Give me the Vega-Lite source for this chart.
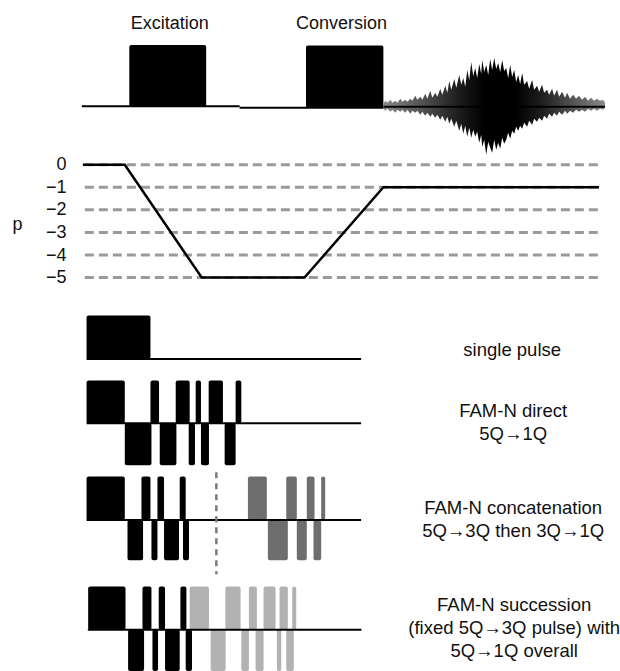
{
  "$schema": "https://vega.github.io/schema/vega-lite/v6.json",
  "width": 620,
  "height": 671,
  "autosize": {"type": "fit", "contains": "padding"},
  "padding": 0,
  "background": "white",
  "config": {"view": {"stroke": null}, "font": "Liberation Sans"},
  "datasets": {
    "pulses": [
      {"t1": 129.5, "t2": 206.5, "v1": 45, "v2": 107, "kind": "pulse"},
      {"t1": 306.5, "t2": 384, "v1": 45.5, "v2": 108, "kind": "pulse"},
      {"t1": 86.7, "t2": 150.7, "v1": 316, "v2": 359.5, "kind": "pulse"},
      {"t1": 86.7, "t2": 125, "v1": 381, "v2": 424, "kind": "pulse"},
      {"t1": 150.7, "t2": 159.3, "v1": 381, "v2": 424, "kind": "pulse"},
      {"t1": 176, "t2": 190, "v1": 381, "v2": 424, "kind": "pulse"},
      {"t1": 196, "t2": 201.3, "v1": 381, "v2": 424, "kind": "pulse"},
      {"t1": 209, "t2": 223.3, "v1": 381, "v2": 424, "kind": "pulse"},
      {"t1": 236, "t2": 241.7, "v1": 381, "v2": 424, "kind": "pulse"},
      {"t1": 125, "t2": 151.7, "v1": 424, "v2": 466, "kind": "pulse"},
      {"t1": 160, "t2": 176.7, "v1": 424, "v2": 466, "kind": "pulse"},
      {"t1": 189, "t2": 195.3, "v1": 424, "v2": 466, "kind": "pulse"},
      {"t1": 201.3, "t2": 209.3, "v1": 424, "v2": 466, "kind": "pulse"},
      {"t1": 225, "t2": 236, "v1": 424, "v2": 466, "kind": "pulse"},
      {"t1": 86.7, "t2": 125, "v1": 477.3, "v2": 520.7, "kind": "pulse"},
      {"t1": 141.7, "t2": 150.7, "v1": 477.3, "v2": 520.7, "kind": "pulse"},
      {"t1": 157.7, "t2": 164.3, "v1": 477.3, "v2": 520.7, "kind": "pulse"},
      {"t1": 180, "t2": 186, "v1": 477.3, "v2": 520.7, "kind": "pulse"},
      {"t1": 127.7, "t2": 143.3, "v1": 520.7, "v2": 561, "kind": "pulse"},
      {"t1": 151.7, "t2": 157.7, "v1": 520.7, "v2": 561, "kind": "pulse"},
      {"t1": 164.3, "t2": 179.3, "v1": 520.7, "v2": 561, "kind": "pulse"},
      {"t1": 183.3, "t2": 189.3, "v1": 520.7, "v2": 561, "kind": "pulse"},
      {"t1": 248.3, "t2": 267.3, "v1": 477.3, "v2": 520.7, "kind": "3Q→1Q block"},
      {"t1": 286.7, "t2": 297.3, "v1": 477.3, "v2": 520.7, "kind": "3Q→1Q block"},
      {"t1": 307.3, "t2": 315, "v1": 477.3, "v2": 520.7, "kind": "3Q→1Q block"},
      {"t1": 321.7, "t2": 325.7, "v1": 477.3, "v2": 520.7, "kind": "3Q→1Q block"},
      {"t1": 268.3, "t2": 288.3, "v1": 520.7, "v2": 561, "kind": "3Q→1Q block"},
      {"t1": 297.3, "t2": 307.3, "v1": 520.7, "v2": 561, "kind": "3Q→1Q block"},
      {"t1": 314, "t2": 321.7, "v1": 520.7, "v2": 561, "kind": "3Q→1Q block"},
      {"t1": 88.3, "t2": 125.7, "v1": 587.3, "v2": 630.7, "kind": "pulse"},
      {"t1": 142.7, "t2": 151.7, "v1": 587.3, "v2": 630.7, "kind": "pulse"},
      {"t1": 159, "t2": 165.3, "v1": 587.3, "v2": 630.7, "kind": "pulse"},
      {"t1": 180.7, "t2": 186.7, "v1": 587.3, "v2": 630.7, "kind": "pulse"},
      {"t1": 128.3, "t2": 144.3, "v1": 630.7, "v2": 672, "kind": "pulse"},
      {"t1": 152.7, "t2": 158.3, "v1": 630.7, "v2": 672, "kind": "pulse"},
      {"t1": 165.3, "t2": 180, "v1": 630.7, "v2": 672, "kind": "pulse"},
      {"t1": 186, "t2": 192.3, "v1": 630.7, "v2": 672, "kind": "pulse"},
      {"t1": 190, "t2": 209.3, "v1": 587.3, "v2": 630.7, "kind": "succession remainder"},
      {"t1": 225.7, "t2": 241, "v1": 587.3, "v2": 630.7, "kind": "succession remainder"},
      {"t1": 249.3, "t2": 257.3, "v1": 587.3, "v2": 630.7, "kind": "succession remainder"},
      {"t1": 264, "t2": 276, "v1": 587.3, "v2": 630.7, "kind": "succession remainder"},
      {"t1": 280, "t2": 288.3, "v1": 587.3, "v2": 630.7, "kind": "succession remainder"},
      {"t1": 292.7, "t2": 296.7, "v1": 587.3, "v2": 630.7, "kind": "succession remainder"},
      {"t1": 211, "t2": 226, "v1": 630.7, "v2": 672, "kind": "succession remainder"},
      {"t1": 241.7, "t2": 249.3, "v1": 630.7, "v2": 672, "kind": "succession remainder"},
      {"t1": 256, "t2": 264, "v1": 630.7, "v2": 672, "kind": "succession remainder"},
      {"t1": 277.3, "t2": 281.7, "v1": 630.7, "v2": 672, "kind": "succession remainder"},
      {"t1": 286.7, "t2": 294.3, "v1": 630.7, "v2": 672, "kind": "succession remainder"}
    ],
    "baselines": [
      {"t1": 82, "t2": 240, "v": 106.5},
      {"t1": 240, "t2": 384, "v": 107.8},
      {"t1": 384, "t2": 606, "v": 107},
      {"t1": 86.7, "t2": 361.7, "v": 359.5},
      {"t1": 86.7, "t2": 361.7, "v": 424},
      {"t1": 86.7, "t2": 361.7, "v": 520.7},
      {"t1": 88, "t2": 362, "v": 630.7}
    ],
    "fid": [
      {"t": 384, "top": 104, "bottom": 109}, {"t": 386, "top": 101, "bottom": 111},
      {"t": 388, "top": 103, "bottom": 109}, {"t": 391, "top": 100, "bottom": 112},
      {"t": 393, "top": 103, "bottom": 110}, {"t": 396, "top": 101, "bottom": 113},
      {"t": 398, "top": 103, "bottom": 110}, {"t": 401, "top": 99, "bottom": 112},
      {"t": 403, "top": 102, "bottom": 110}, {"t": 406, "top": 100, "bottom": 113},
      {"t": 408, "top": 102, "bottom": 110}, {"t": 411, "top": 99, "bottom": 114},
      {"t": 413, "top": 101, "bottom": 111}, {"t": 416, "top": 96, "bottom": 113},
      {"t": 418, "top": 100, "bottom": 111}, {"t": 421, "top": 97, "bottom": 115},
      {"t": 423, "top": 100, "bottom": 112}, {"t": 426, "top": 94, "bottom": 116},
      {"t": 428, "top": 99, "bottom": 113}, {"t": 431, "top": 91, "bottom": 117},
      {"t": 433, "top": 98, "bottom": 114}, {"t": 436, "top": 93, "bottom": 118},
      {"t": 438, "top": 97, "bottom": 115}, {"t": 441, "top": 89, "bottom": 120},
      {"t": 443, "top": 95, "bottom": 116}, {"t": 446, "top": 86, "bottom": 122},
      {"t": 448, "top": 93, "bottom": 117}, {"t": 450, "top": 81, "bottom": 124},
      {"t": 452, "top": 90, "bottom": 119}, {"t": 455, "top": 79, "bottom": 127},
      {"t": 457, "top": 88, "bottom": 121}, {"t": 460, "top": 75, "bottom": 131},
      {"t": 462, "top": 85, "bottom": 124}, {"t": 464, "top": 78, "bottom": 134},
      {"t": 466, "top": 87, "bottom": 126}, {"t": 468, "top": 70, "bottom": 137},
      {"t": 470, "top": 80, "bottom": 128}, {"t": 472, "top": 62, "bottom": 138},
      {"t": 474, "top": 76, "bottom": 130}, {"t": 476, "top": 68, "bottom": 137},
      {"t": 478, "top": 78, "bottom": 132}, {"t": 480, "top": 64, "bottom": 143},
      {"t": 482, "top": 74, "bottom": 135}, {"t": 483, "top": 60, "bottom": 147},
      {"t": 485, "top": 72, "bottom": 140}, {"t": 487, "top": 65, "bottom": 155},
      {"t": 489, "top": 75, "bottom": 142}, {"t": 491, "top": 59, "bottom": 148},
      {"t": 493, "top": 70, "bottom": 153}, {"t": 495, "top": 58, "bottom": 140},
      {"t": 497, "top": 69, "bottom": 150}, {"t": 499, "top": 63, "bottom": 143},
      {"t": 501, "top": 72, "bottom": 149}, {"t": 503, "top": 60, "bottom": 138},
      {"t": 505, "top": 71, "bottom": 144}, {"t": 507, "top": 68, "bottom": 140},
      {"t": 509, "top": 78, "bottom": 133}, {"t": 511, "top": 65, "bottom": 139},
      {"t": 513, "top": 77, "bottom": 131}, {"t": 515, "top": 70, "bottom": 134},
      {"t": 517, "top": 82, "bottom": 127}, {"t": 519, "top": 75, "bottom": 131},
      {"t": 521, "top": 84, "bottom": 126}, {"t": 523, "top": 73, "bottom": 129},
      {"t": 525, "top": 85, "bottom": 123}, {"t": 528, "top": 81, "bottom": 127},
      {"t": 530, "top": 89, "bottom": 121}, {"t": 533, "top": 80, "bottom": 125},
      {"t": 535, "top": 90, "bottom": 119}, {"t": 538, "top": 86, "bottom": 122},
      {"t": 540, "top": 92, "bottom": 118}, {"t": 543, "top": 85, "bottom": 121},
      {"t": 545, "top": 93, "bottom": 116}, {"t": 548, "top": 90, "bottom": 119},
      {"t": 550, "top": 95, "bottom": 114}, {"t": 553, "top": 89, "bottom": 117},
      {"t": 555, "top": 96, "bottom": 113}, {"t": 558, "top": 90, "bottom": 116},
      {"t": 560, "top": 97, "bottom": 112}, {"t": 563, "top": 92, "bottom": 115},
      {"t": 566, "top": 98, "bottom": 111}, {"t": 568, "top": 93, "bottom": 114},
      {"t": 571, "top": 99, "bottom": 111}, {"t": 574, "top": 95, "bottom": 113},
      {"t": 577, "top": 99, "bottom": 110}, {"t": 580, "top": 96, "bottom": 112},
      {"t": 583, "top": 100, "bottom": 110}, {"t": 586, "top": 97, "bottom": 112},
      {"t": 589, "top": 101, "bottom": 109}, {"t": 592, "top": 98, "bottom": 111},
      {"t": 595, "top": 101, "bottom": 109}, {"t": 598, "top": 99, "bottom": 111},
      {"t": 601, "top": 101, "bottom": 109}, {"t": 604, "top": 100, "bottom": 110},
      {"t": 606, "top": 103, "bottom": 108}
    ],
    "divider": [{"t": 216.7, "v1": 473, "v2": 575}],
    "blockLabels": [
      {"t": 170, "v": 29.3, "label": "Excitation"},
      {"t": 342, "v": 29.3, "label": "Conversion"}
    ],
    "schemeLabels": [
      {"t": 513, "v": 356.5, "label": ["single pulse"]},
      {"t": 514, "v": 418, "label": ["FAM-N direct", "5Q→1Q"]},
      {"t": 514, "v": 515, "label": ["FAM-N concatenation", "5Q→3Q then 3Q→1Q"]},
      {"t": 515, "v": 611.5, "label": ["FAM-N succession", "(fixed 5Q→3Q pulse) with", "5Q→1Q overall"]}
    ],
    "levels": [{"p": 0}, {"p": -1}, {"p": -2}, {"p": -3}, {"p": -4}, {"p": -5}],
    "pathway": [
      {"t": 83, "p": 0}, {"t": 125, "p": 0}, {"t": 202, "p": -5},
      {"t": 305, "p": -5}, {"t": 384, "p": -1}, {"t": 600, "p": -1}
    ]
  },
  "layer": [
    {
      "layer": [
        {
          "data": {"name": "pulses"},
          "mark": {"type": "rect", "cornerRadius": 2},
          "encoding": {
            "x": {"field": "t1", "type": "quantitative", "scale": {"domain": [0, 620], "nice": false, "zero": false}, "axis": null},
            "x2": {"field": "t2"},
            "y": {"field": "v1", "type": "quantitative", "scale": {"domain": [0, 671], "reverse": true, "nice": false, "zero": false}, "axis": null},
            "y2": {"field": "v2"},
            "color": {"field": "kind", "type": "nominal", "scale": {"domain": ["pulse", "3Q→1Q block", "succession remainder"], "range": ["#000000", "#6e6e6e", "#b2b2b2"]}, "legend": null}
          }
        },
        {
          "data": {"name": "fid"},
          "mark": {
            "type": "area",
            "color": {
              "gradient": "linear", "x1": 0, "x2": 1, "y1": 0, "y2": 0,
              "stops": [
                {"offset": 0, "color": "#8a8a8a"},
                {"offset": 0.33, "color": "#202020"},
                {"offset": 0.45, "color": "#000000"},
                {"offset": 0.6, "color": "#000000"},
                {"offset": 0.72, "color": "#202020"},
                {"offset": 1, "color": "#8a8a8a"}
              ]
            }
          },
          "encoding": {
            "x": {"field": "t", "type": "quantitative"},
            "y": {"field": "top", "type": "quantitative"},
            "y2": {"field": "bottom"}
          }
        },
        {
          "data": {"name": "baselines"},
          "mark": {"type": "rule", "color": "#000000", "strokeWidth": 2},
          "encoding": {
            "x": {"field": "t1", "type": "quantitative"},
            "x2": {"field": "t2"},
            "y": {"field": "v", "type": "quantitative"}
          }
        },
        {
          "data": {"name": "divider"},
          "mark": {"type": "rule", "color": "#7a7a7a", "strokeWidth": 2.5, "strokeDash": [6, 5]},
          "encoding": {
            "x": {"field": "t", "type": "quantitative"},
            "y": {"field": "v1", "type": "quantitative"},
            "y2": {"field": "v2"}
          }
        },
        {
          "data": {"name": "blockLabels"},
          "mark": {"type": "text", "font": "Liberation Sans", "fontSize": 18, "color": "#111111", "align": "center", "baseline": "alphabetic"},
          "encoding": {
            "x": {"field": "t", "type": "quantitative"},
            "y": {"field": "v", "type": "quantitative"},
            "text": {"field": "label"}
          }
        },
        {
          "data": {"name": "schemeLabels"},
          "mark": {"type": "text", "font": "Liberation Sans", "fontSize": 18.5, "color": "#111111", "align": "center", "baseline": "alphabetic", "lineHeight": 23},
          "encoding": {
            "x": {"field": "t", "type": "quantitative"},
            "y": {"field": "v", "type": "quantitative"},
            "text": {"field": "label"}
          }
        }
      ]
    },
    {
      "encoding": {
        "y": {
          "field": "p", "type": "quantitative",
          "scale": {"domain": [-22.39, 7.3], "nice": false, "zero": false},
          "axis": {
            "orient": "left", "values": [0, -1, -2, -3, -4, -5], "offset": -66,
            "domain": false, "ticks": false, "grid": false,
            "labelFont": "Liberation Sans", "labelFontSize": 18, "labelColor": "#111111", "labelPadding": 0,
            "title": "p", "titleAngle": 0, "titleX": -49, "titleY": 229, "titleAlign": "center", "titleBaseline": "alphabetic",
            "titleFont": "Liberation Sans", "titleFontSize": 18, "titleFontWeight": "normal", "titleColor": "#111111"
          }
        }
      },
      "layer": [
        {
          "data": {"name": "levels"},
          "mark": {"type": "rule", "color": "#9a9a9a", "strokeWidth": 3, "strokeDash": [9, 5]},
          "encoding": {
            "x": {"datum": 85, "type": "quantitative"},
            "x2": {"datum": 600}
          }
        },
        {
          "data": {"name": "pathway"},
          "mark": {"type": "line", "color": "#000000", "strokeWidth": 2.5},
          "encoding": {
            "x": {"field": "t", "type": "quantitative"}
          }
        }
      ]
    }
  ],
  "resolve": {"scale": {"y": "independent"}}
}
